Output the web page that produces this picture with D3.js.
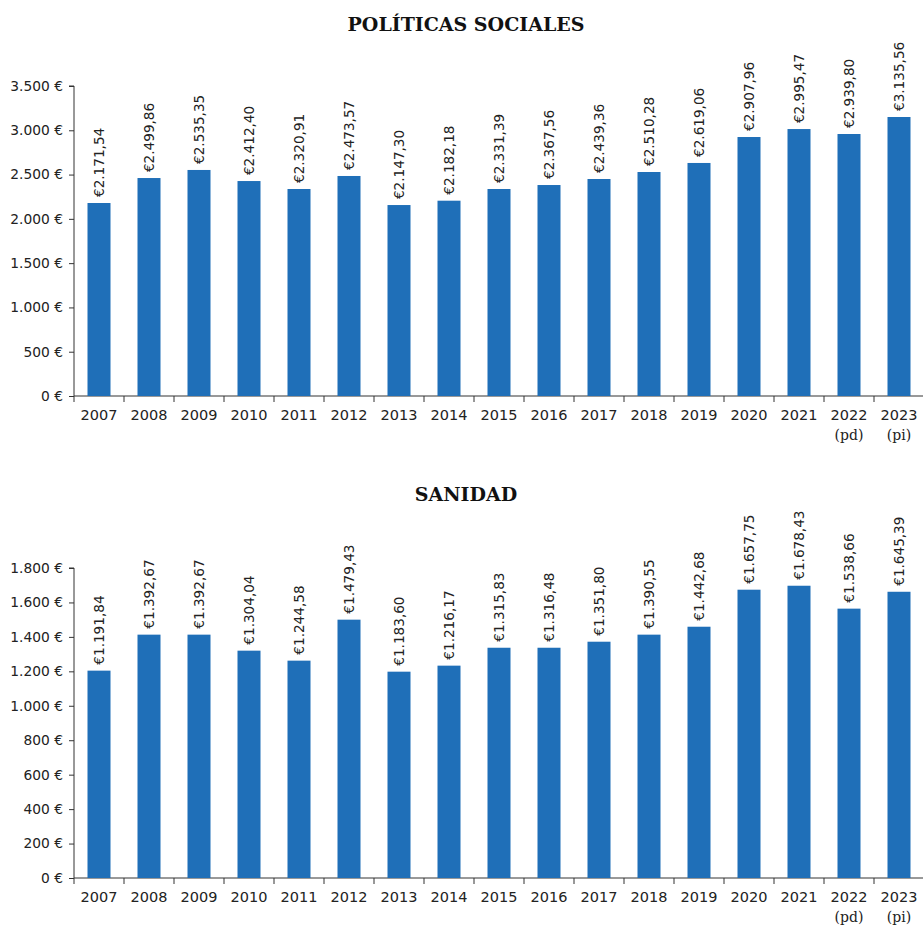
<!DOCTYPE html>
<html>
<head>
<meta charset="utf-8">
<script src="https://cdn.jsdelivr.net/npm/d3@7"></script>
<style>
  body { margin: 0; background: #fff; }
  .title { font-family: "DejaVu Serif", serif; font-weight: bold; font-size: 19px; fill: #111; }
  .axis text { font-family: "DejaVu Sans", sans-serif; font-size: 13.8px; fill: #222; }
  .axis .yr { font-size: 14.5px; }
  .axis path, .axis line { stroke: #333; }
  .val { font-family: "DejaVu Sans", sans-serif; font-size: 13.6px; fill: #222; }
</style>
</head>
<body>
<div class="chart"></div>
<script>
// DATA ------------------------------
const years = ["2007","2008","2009","2010","2011","2012","2013","2014","2015","2016","2017","2018","2019","2020","2021","2022","2023"];
const yearNotes = ["","","","","","","","","","","","","","","","(pd)","(pi)"];

// bar heights, labels as printed
const socialesBars = [2179, 2461, 2552, 2427, 2337, 2484, 2156, 2205, 2337, 2382, 2450, 2529, 2631, 2924, 3014, 2958, 3150];
const socialesLabels = [2171.54, 2499.86, 2535.35, 2412.40, 2320.91, 2473.57, 2147.30, 2182.18, 2331.39, 2367.56, 2439.36, 2510.28, 2619.06, 2907.96, 2995.47, 2939.80, 3135.56];
const socialesTicks = [0, 500, 1000, 1500, 2000, 2500, 3000, 3500];

const sanidadBars = [1204, 1413, 1413, 1320, 1262, 1500, 1198, 1233, 1337, 1337, 1372, 1413, 1459, 1674, 1697, 1564, 1662];
const sanidadLabels = [1191.84, 1392.67, 1392.67, 1304.04, 1244.58, 1479.43, 1183.60, 1216.17, 1315.83, 1316.48, 1351.80, 1390.55, 1442.68, 1657.75, 1678.43, 1538.66, 1645.39];
const sanidadTicks = [0, 200, 400, 600, 800, 1000, 1200, 1400, 1600, 1800];

// CHART INIT ------------------------------
const W = 923, H = 926;
const esLocale = d3.formatLocale({decimal: ",", thousands: ".", grouping: [3], currency: ["€", ""]});
const fmtTick = esLocale.format(",.0f");
const fmtVal = esLocale.format(",.2f");

const svg = d3.select(".chart")
    .append("svg")
    .attr("width", W)
    .attr("height", H);

function drawPanel(title, bars, labels, ticks, top, titleY){
    const left = 74, right = 924, bottom = top + 310;

    svg.append("text")
        .attr("class", "title")
        .attr("x", 466)
        .attr("y", titleY)
        .attr("text-anchor", "middle")
        .text(title);

    const xScale = d3.scaleBand()
        .domain(years)
        .range([left, right])
        .paddingInner(0.54)
        .paddingOuter(0.27);

    const yScale = d3.scaleLinear()
        .domain([0, d3.max(ticks)])
        .range([bottom, top]);

    // y axis
    svg.append("g")
        .attr("class", "axis y-axis")
        .attr("transform", `translate(${left},0)`)
        .call(d3.axisLeft(yScale).tickValues(ticks).tickSize(5).tickPadding(6)
            .tickFormat(d => fmtTick(d) + " €"))
        .call(g => g.select(".domain").attr("d", `M-5,${top}H0V${bottom}`));

    // x axis, ticks between the bars
    const xg = svg.append("g")
        .attr("class", "axis x-axis")
        .attr("transform", `translate(0,${bottom})`);
    xg.append("line")
        .attr("x1", left).attr("x2", right)
        .attr("y1", 0).attr("y2", 0);
    xg.selectAll(".tk")
        .data(years)
        .join("line")
        .attr("class", "tk")
        .attr("x1", d => xScale(d) - xScale.step() * xScale.paddingInner() / 2)
        .attr("x2", d => xScale(d) - xScale.step() * xScale.paddingInner() / 2)
        .attr("y1", 0).attr("y2", 6);
    const yl = xg.selectAll(".yr")
        .data(years)
        .join("text")
        .attr("class", "yr")
        .attr("text-anchor", "middle")
        .attr("x", d => xScale(d) + xScale.bandwidth() / 2)
        .attr("y", 24);
    yl.append("tspan").text(d => d);
    yl.append("tspan")
        .attr("x", d => xScale(d) + xScale.bandwidth() / 2)
        .attr("dy", 20)
        .style("font-family", "DejaVu Serif, serif")
        .style("font-size", "14px")
        .text((d, i) => yearNotes[i]);

    // bars
    svg.selectAll(".bar-" + title.length)
        .data(bars)
        .join("rect")
        .attr("class", "bar-" + title.length)
        .attr("x", (d, i) => xScale(years[i]))
        .attr("width", xScale.bandwidth())
        .attr("y", d => yScale(d))
        .attr("height", d => bottom - yScale(d))
        .attr("fill", "#1f6fb8");

    // rotated value labels
    svg.selectAll(".val-" + title.length)
        .data(labels)
        .join("text")
        .attr("class", "val val-" + title.length)
        .attr("transform", (d, i) => `translate(${xScale(years[i]) + xScale.bandwidth() / 2 + 5},${yScale(bars[i]) - 6}) rotate(-90)`)
        .text(d => "€" + fmtVal(d));
}

drawPanel("POLÍTICAS SOCIALES", socialesBars, socialesLabels, socialesTicks, 86, 31);
drawPanel("SANIDAD", sanidadBars, sanidadLabels, sanidadTicks, 568, 501);
</script>
</body>
</html>
